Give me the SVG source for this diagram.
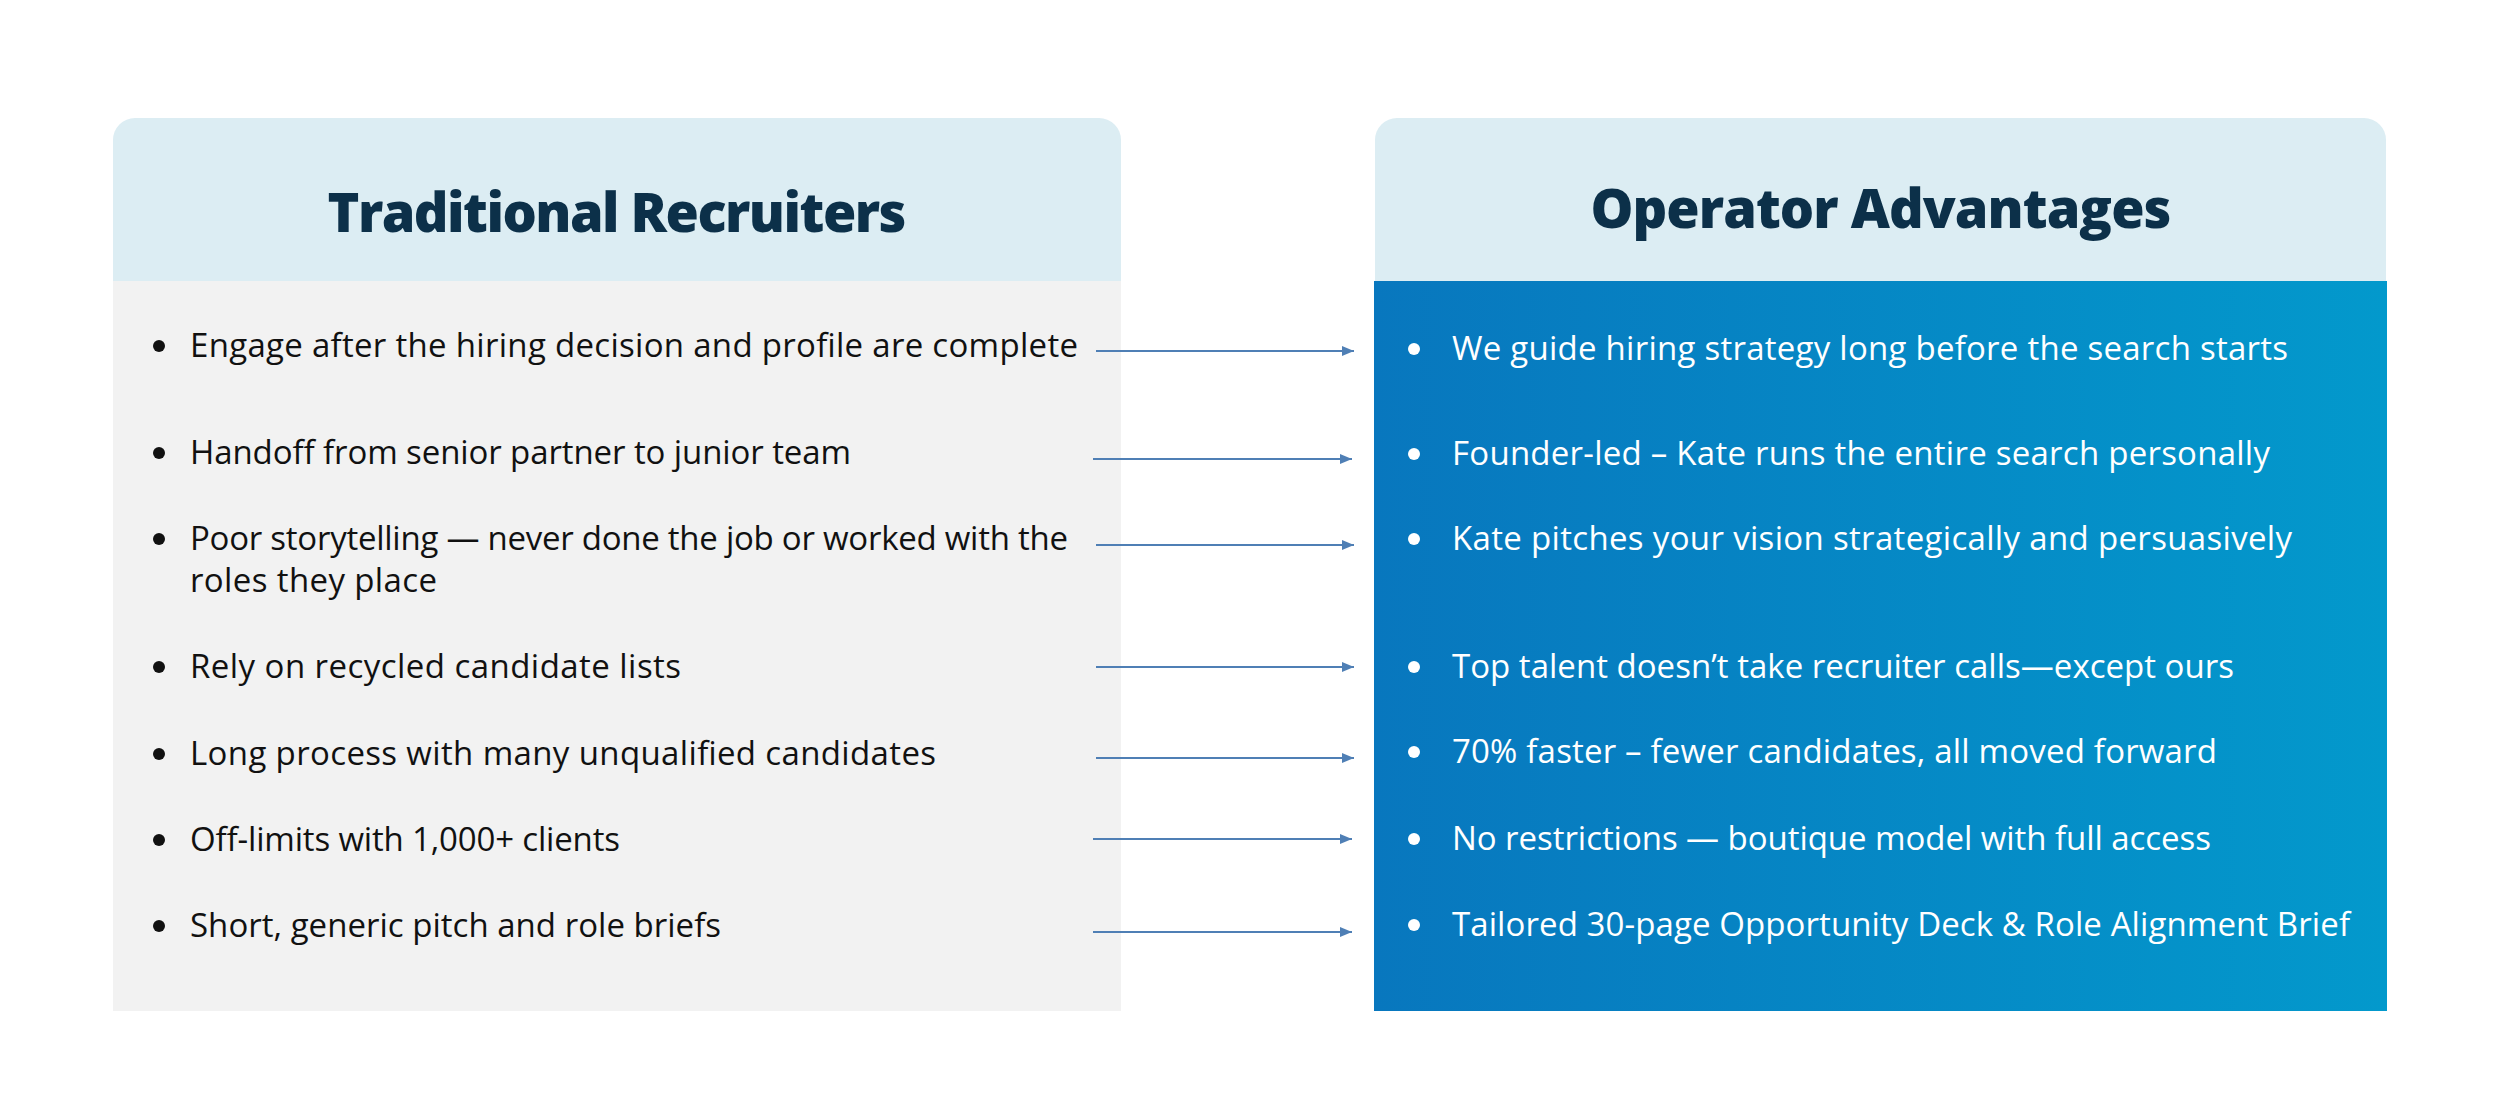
<svg xmlns="http://www.w3.org/2000/svg" width="2500" height="1093" viewBox="0 0 2500 1093">
  <style>
    .title { font-family: "Open Sans", "Noto Sans", sans-serif; font-weight: 800; font-size: 54px; fill: #0c3049; }
    .lt { font-family: "Open Sans", "Noto Sans", sans-serif; font-size: 33px; fill: #111111; }
    .rt { font-family: "Open Sans", "Noto Sans", sans-serif; font-size: 33px; fill: #ffffff; }
    .lb { fill: #111111; }
    .rb { fill: #ffffff; }
    .hdr { fill: #dcedf3; }
    .conn { stroke: #4f7fb5; stroke-width: 2; fill: none; }
  </style>
  <defs>
    <linearGradient id="blueGrad" x1="0" y1="0" x2="1" y2="0">
      <stop offset="0" stop-color="#0877be"/>
      <stop offset="1" stop-color="#0399cc"/>
    </linearGradient>
    <marker id="arrow" markerUnits="userSpaceOnUse" markerWidth="13" markerHeight="11" refX="12" refY="5" orient="auto">
      <path d="M0,0 L12,5 L0,10 Z" fill="#4f7fb5"/>
    </marker>
  </defs>
  <rect width="2500" height="1093" fill="#ffffff"/>

  <g id="panel-traditional">
    <rect x="113" y="281" width="1008" height="730" fill="#f2f2f2"/>
    <path class="hdr" d="M113,140 a22,22 0 0 1 22,-22 H1099 a22,22 0 0 1 22,22 V281 H113 Z"/>
    <text class="title" x="617" y="232" text-anchor="middle" textLength="579">Traditional Recruiters</text>
  </g>

  <g id="panel-operator">
    <rect x="1374" y="281" width="1013" height="730" fill="url(#blueGrad)"/>
    <path class="hdr" d="M1375,140 a22,22 0 0 1 22,-22 H2364 a22,22 0 0 1 22,22 V281 H1375 Z"/>
    <text class="title" x="1881" y="228" text-anchor="middle" textLength="581">Operator Advantages</text>
  </g>

  <g id="trad-1"><circle class="lb" cx="159" cy="346" r="6"/><text class="lt" x="190" y="357" textLength="888">Engage after the hiring decision and profile are complete</text></g>
  <g id="trad-2"><circle class="lb" cx="159" cy="453" r="6"/><text class="lt" x="190" y="464" textLength="661">Handoff from senior partner to junior team</text></g>
  <g id="trad-3"><circle class="lb" cx="159" cy="539" r="6"/><text class="lt" x="190" y="550" textLength="878">Poor storytelling — never done the job or worked with the</text><text class="lt" x="190" y="592" textLength="247">roles they place</text></g>
  <g id="trad-4"><circle class="lb" cx="159" cy="667" r="6"/><text class="lt" x="190" y="678" textLength="491">Rely on recycled candidate lists</text></g>
  <g id="trad-5"><circle class="lb" cx="159" cy="754" r="6"/><text class="lt" x="190" y="765" textLength="746">Long process with many unqualified candidates</text></g>
  <g id="trad-6"><circle class="lb" cx="159" cy="840" r="6"/><text class="lt" x="190" y="851" textLength="430">Off-limits with 1,000+ clients</text></g>
  <g id="trad-7"><circle class="lb" cx="159" cy="926" r="6"/><text class="lt" x="190" y="937" textLength="531">Short, generic pitch and role briefs</text></g>

  <g id="op-1"><circle class="rb" cx="1414" cy="349" r="6"/><text class="rt" x="1452" y="360" textLength="836">We guide hiring strategy long before the search starts</text></g>
  <g id="op-2"><circle class="rb" cx="1414" cy="454" r="6"/><text class="rt" x="1452" y="465" textLength="818">Founder-led – Kate runs the entire search personally</text></g>
  <g id="op-3"><circle class="rb" cx="1414" cy="539" r="6"/><text class="rt" x="1452" y="550" textLength="840">Kate pitches your vision strategically and persuasively</text></g>
  <g id="op-4"><circle class="rb" cx="1414" cy="667" r="6"/><text class="rt" x="1452" y="678" textLength="782">Top talent doesn’t take recruiter calls—except ours</text></g>
  <g id="op-5"><circle class="rb" cx="1414" cy="752" r="6"/><text class="rt" x="1452" y="763" textLength="765">70% faster – fewer candidates, all moved forward</text></g>
  <g id="op-6"><circle class="rb" cx="1414" cy="839" r="6"/><text class="rt" x="1452" y="850" textLength="759">No restrictions — boutique model with full access</text></g>
  <g id="op-7"><circle class="rb" cx="1414" cy="925" r="6"/><text class="rt" x="1452" y="936" textLength="898">Tailored 30-page Opportunity Deck &amp; Role Alignment Brief</text></g>

  <g id="connectors">
    <line class="conn" x1="1096" y1="351" x2="1354" y2="351" marker-end="url(#arrow)"/>
    <line class="conn" x1="1093" y1="459" x2="1352" y2="459" marker-end="url(#arrow)"/>
    <line class="conn" x1="1096" y1="545" x2="1354" y2="545" marker-end="url(#arrow)"/>
    <line class="conn" x1="1096" y1="667" x2="1354" y2="667" marker-end="url(#arrow)"/>
    <line class="conn" x1="1096" y1="758" x2="1354" y2="758" marker-end="url(#arrow)"/>
    <line class="conn" x1="1093" y1="839" x2="1352" y2="839" marker-end="url(#arrow)"/>
    <line class="conn" x1="1093" y1="932" x2="1352" y2="932" marker-end="url(#arrow)"/>
  </g>
</svg>
